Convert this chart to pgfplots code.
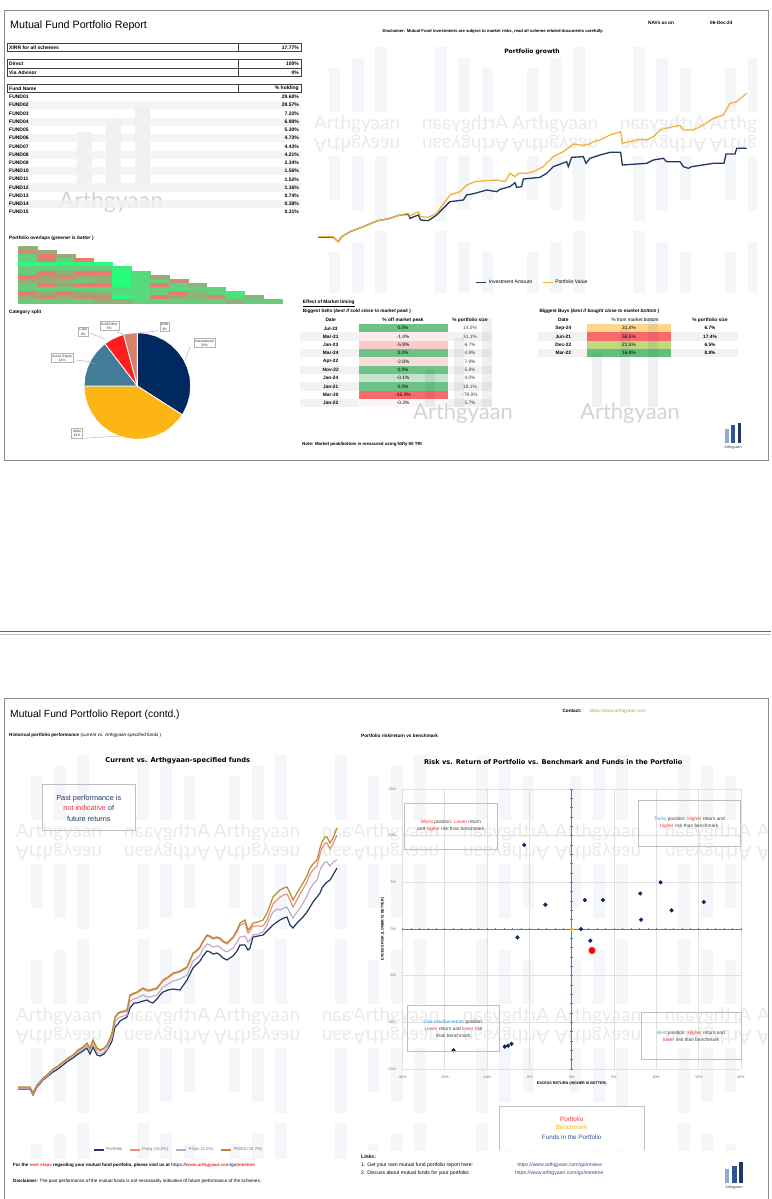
\documentclass[border=0pt]{standalone}
\usepackage{pgfplots}
\usepackage{pgfplotstable}
\pgfplotsset{compat=1.18}
\usepackage{fontspec}
\setmainfont{Liberation Sans}
\newfontfamily\dv{DejaVu Sans}
\newfontfamily\lato{Lato}
\definecolor{navy}{HTML}{1F3864}
\definecolor{gorange}{HTML}{F4B23A}
\definecolor{frame}{HTML}{8C8C8C}
\definecolor{band}{HTML}{F2F2F2}
\definecolor{wmbar}{HTML}{F5F6FA}
\definecolor{wmtext}{HTML}{EAEAEA}
\definecolor{pint}{HTML}{002960}
\definecolor{pidx}{HTML}{FDB515}
\definecolor{pact}{HTML}{437C96}
\definecolor{pcash}{HTML}{FF1E1E}
\definecolor{pgold}{HTML}{D9806A}
\definecolor{cg}{HTML}{6CC287}
\definecolor{cg2}{HTML}{C2E5CB}
\definecolor{cp1}{HTML}{FCEBEB}
\definecolor{cp2}{HTML}{F9CBCB}
\definecolor{cp3}{HTML}{FADCDC}
\definecolor{cr}{HTML}{F8696B}
\definecolor{cp4}{HTML}{FDF6F6}
\definecolor{co}{HTML}{FDD68A}
\definecolor{cy}{HTML}{BFD97E}
\definecolor{cgg}{HTML}{63BE7B}
\definecolor{lsal}{HTML}{E8927C}
\definecolor{llil}{HTML}{C3A9C6}
\definecolor{lgold}{HTML}{BA8A2C}
\definecolor{fundc}{HTML}{0D2B5E}
\definecolor{redt}{HTML}{FF2B2B}
\definecolor{bluet}{HTML}{2E95D3}
\definecolor{greent}{HTML}{3DBE6E}
\definecolor{linkc}{HTML}{2F4F8F}
\definecolor{axc}{HTML}{5E7FA8}
\definecolor{lg1}{HTML}{8FAADC}
\definecolor{lg2}{HTML}{2F5597}
\definecolor{lg3}{HTML}{203864}
\definecolor{urlg}{HTML}{7DBB5A}
\newcommand\fs[1]{\fontsize{#1}{#1}\selectfont}
\tikzset{P/.style={x=1pt,y=1pt}}
\newcommand\wmtile[4]{%
  \begin{scope}[shift={(#1,-#2)}, xscale=#3, yscale=#4, transform shape]
    \fill[wmbar] (-32.8,-24) rectangle (-21.2,20);
    \fill[wmbar] (-9.5,-24) rectangle (2.5,30);
    \fill[wmbar] (13.8,-24) rectangle (25.8,41);
    \node[text=wmtext, font=\lato\fs{19}, inner sep=0pt] at (-4.5,-36) {Arthgyaan};
  \end{scope}}

\pgfplotstableread{
x g s l n
18 1087 1088 1088 1089
30 1087 1088 1088 1089
33 1093 1094 1094 1095
37 1085 1086 1086 1087
43 1078 1079 1079 1080
48 1074 1075 1075 1076
53 1069 1070 1070 1072
58 1066 1067 1067 1069
63 1062 1063 1063 1065
68 1058 1059 1059 1061
73 1055 1056 1056 1058
78 1050 1051 1052 1054
83 1047 1048 1049 1051
87 1043 1044 1046 1048
90 1048 1049 1051 1054
93 1040 1041 1044 1047
97 1048 1049 1052 1055
100 1050 1051 1054 1056
104 1048 1049 1052 1054
107 1045 1046 1049 1050
110 1038 1039 1042 1045
112 1033 1034 1037 1041
115 1017 1018 1022 1027
118 1013 1014 1018 1024
120 1012 1013 1017 1021
127 1010 1011 1015 1017
130 995 996 1001 1008
134 993 994 999 1003
137 992 993 998 1003
143 988 989 995 1001
147 990 991 997 1000
150 990 991 997 1002
153 989 990 996 1003
157 988 989 995 999
160 984 985 991 995
163 980 981 987 992
168 977 978 984 990
173 973 974 981 989
180 971 972 979 990
187 967 968 975 980
190 960 961 968 974
193 953 954 961 968
197 950 951 958 964
200 947 948 955 961
203 941 942 949 956
207 935 936 944 951
210 936 937 945 952
213 938 939 947 954
217 937 938 946 953
220 938 939 947 955
223 941 942 950 958
227 943 944 952 960
230 940 941 950 958
233 937 938 948 956
237 930 932 942 951
240 923 925 937 945
245 920 923 936 945
248 930 933 942 950
250 928 931 940 948
253 923 926 935 937
258 922 926 934 936
263 920 926 932 935
267 913 920 925 931
270 905 912 918 928
273 897 904 912 925
277 893 900 909 922
280 890 897 910 920
284 888 895 908 918
287 887 894 907 917
290 893 900 913 925
293 900 907 918 928
297 893 900 912 923
300 888 894 908 920
303 883 889 903 917
307 876 882 896 912
310 868 874 889 907
313 864 870 884 902
317 860 866 880 897
320 848 854 870 893
322 842 848 866 888
325 837 843 862 884
327 837 843 862 882
330 843 849 866 880
333 838 844 862 875
337 828 835 860 868
}\perf

\begin{document}
\begin{tikzpicture}
\begin{scope}[P]
\fill[white] (0,0) rectangle (771,-1199);
\path[use as bounding box] (0,0) rectangle (771,-1199);

% ---------- frames ----------
\draw[frame, line width=0.8pt] (4,-10) rectangle (768,-460);
\draw[black!60, line width=0.8pt] (0,-631.5) -- (771,-631.5);
\draw[black!25, line width=0.6pt] (0,-634) -- (771,-634);
\draw[frame, line width=0.8pt] (4,-1199) -- (4,-698) -- (768,-698) -- (768,-1199);

% ---------- watermark tiles ----------
\begin{scope}
\clip (312,-42) rectangle (757,-292);
\foreach \c in {0,...,4}{\foreach \r in {0,1,2}{%
  \pgfmathsetmacro\tx{312+99*\c+49.5}\pgfmathsetmacro\ty{42+92*\r+46}%
  \pgfmathsetmacro\sx{1-2*mod(\c,2)}\pgfmathsetmacro\sy{1-2*mod(\r,2)}%
  \wmtile{\tx}{\ty}{\sx}{\sy}}}
\end{scope}
\begin{scope}
\clip (10,-745) rectangle (352,-1158);
\foreach \c in {0,...,3}{\foreach \r in {0,...,4}{%
  \pgfmathsetmacro\tx{14+99*\c+49.5}\pgfmathsetmacro\ty{750+92*\r+46}%
  \pgfmathsetmacro\sx{1-2*mod(\c,2)}\pgfmathsetmacro\sy{1-2*mod(\r,2)}%
  \wmtile{\tx}{\ty}{\sx}{\sy}}}
\end{scope}
\begin{scope}
\clip (355,-745) rectangle (766,-1150);
\foreach \c in {0,...,4}{\foreach \r in {0,...,4}{%
  \pgfmathsetmacro\tx{351+101*\c+49.5}\pgfmathsetmacro\ty{750+92*\r+46}%
  \pgfmathsetmacro\sx{1-2*mod(\c,2)}\pgfmathsetmacro\sy{1-2*mod(\r,2)}%
  \wmtile{\tx}{\ty}{\sx}{\sy}}}
\end{scope}

% ---------- page 1 : left ----------
\node[anchor=west, inner sep=0pt, font=\fs{10.7}] at (10,-26) {Mutual Fund Portfolio Report};

\fill[black!6] (76.7,-131.7) rectangle (91.7,-185);
\fill[black!6] (106,-118.3) rectangle (120.7,-185);
\fill[black!6] (135,-105) rectangle (150,-185);
\node[text=black!17, font=\lato\fs{23}, inner sep=0pt] at (111,-202) {Arthgyaan};

\begin{scope}[every node/.style={inner sep=0pt, font=\bfseries\fs{5}}]
\draw[black!75, line width=0.5pt] (7,-43.3) rectangle (301,-51.7) (238.7,-43.3) -- (238.7,-51.7);
\node[anchor=west] at (9,-47.5) {XIRR for all schemes};
\node[anchor=east] at (299,-47.5) {17.77\%};
\draw[black!75, line width=0.5pt] (7,-59.7) rectangle (301,-76.7) (7,-68.2) -- (301,-68.2) (238.7,-59.7) -- (238.7,-76.7);
\node[anchor=west] at (9,-64) {Direct};
\node[anchor=east] at (299,-64) {100\%};
\node[anchor=west] at (9,-72.5) {Via Advisor};
\node[anchor=east] at (299,-72.5) {0\%};
\draw[black!75, line width=0.5pt] (7,-84) rectangle (301,-92.7) (238.7,-84) -- (238.7,-92.7);
\node[anchor=west] at (9,-88.3) {Fund Name};
\node[anchor=east] at (299,-88.3) {\% holding};
\foreach \n/\v [count=\i] in {FUND01/29.60,FUND02/29.57,FUND03/7.22,FUND04/6.90,FUND05/5.30,FUND06/4.73,FUND07/4.43,FUND08/4.21,FUND09/2.34,FUND10/1.56,FUND11/1.52,FUND12/1.16,FUND13/0.74,FUND14/0.38,FUND15/0.31}{%
  \pgfmathsetmacro\yy{97+(\i-1)*8.23}%
  \ifodd\i\else\fill[band, opacity=0.8] (7,{-\yy+4.1}) rectangle (301,{-\yy-4.1});\fi
  \node[anchor=west] at (9,-\yy) {\n};
  \node[anchor=east] at (299,-\yy) {\v\%};}
\end{scope}

\node[anchor=west, inner sep=0pt, font=\bfseries\fs{4.8}] at (9,-238.3) {Portfolio overlaps (\textit{greener is better} )};
\node[anchor=west, inner sep=0pt, font=\bfseries\fs{4.8}] at (9,-312.7) {Category split};
\end{scope}

% heatmap
\begin{axis}[at={(18pt,-246pt)}, anchor=north west, scale only axis, width=263.7pt, height=57.4pt,
 xmin=0.5,xmax=14.5,ymin=0.5,ymax=14.5,y dir=reverse, hide axis, clip=false,
 colormap={ov}{rgb255(0cm)=(236,120,110) rgb255(3cm)=(200,142,115) rgb255(5cm)=(150,172,120) rgb255(8cm)=(100,208,125) rgb255(10cm)=(40,252,125)},
 point meta min=0, point meta max=1]
\addplot[scatter, only marks, mark=square*, mark size=2.1pt, mark options={xscale=4.5, line width=0.05pt},
 scatter/use mapped color={draw=mapped color, fill=mapped color}, point meta=explicit]
 table[row sep=\\, meta=c] {x y c\\
1 1 0.5\\
1 2 0.3\\ 2 2 0.5\\
1 3 0.8\\ 2 3 0.05\\ 3 3 0.5\\
1 4 0.8\\ 2 4 0.1\\ 3 4 0.75\\ 4 4 0\\
1 5 1\\ 2 5 1\\ 3 5 1\\ 4 5 1\\ 5 5 1\\
1 6 0.75\\ 2 6 0.75\\ 3 6 0.75\\ 4 6 0.75\\ 5 6 0.75\\ 6 6 0.95\\
1 7 0.75\\ 2 7 0.05\\ 3 7 0.5\\ 4 7 0.05\\ 5 7 0\\ 6 7 1\\ 7 7 0.85\\
1 8 0.1\\ 2 8 0.45\\ 3 8 0.25\\ 4 8 0.5\\ 5 8 0.5\\ 6 8 1\\ 7 8 0.85\\ 8 8 0.5\\
1 9 0.5\\ 2 9 0.5\\ 3 9 0.55\\ 4 9 0.75\\ 5 9 0.55\\ 6 9 1\\ 7 9 0.85\\ 8 9 0.8\\ 9 9 0.3\\
1 10 0.75\\ 2 10 0.05\\ 3 10 0.5\\ 4 10 0.05\\ 5 10 0\\ 6 10 1\\ 7 10 0.85\\ 8 10 0.05\\ 9 10 0.8\\ 10 10 0.6\\
1 11 0.8\\ 2 11 0.8\\ 3 11 0.8\\ 4 11 0.8\\ 5 11 0.8\\ 6 11 0.85\\ 7 11 0.85\\ 8 11 0.8\\ 9 11 0.85\\ 10 11 0.8\\ 11 11 0.8\\
1 12 0.1\\ 2 12 0.5\\ 3 12 0.1\\ 4 12 0.5\\ 5 12 0.55\\ 6 12 0.85\\ 7 12 0.85\\ 8 12 0.8\\ 9 12 0.05\\ 10 12 0.55\\ 11 12 0.8\\ 12 12 0.9\\
1 13 0.5\\ 2 13 0.3\\ 3 13 0.5\\ 4 13 0.3\\ 5 13 0.3\\ 6 13 1\\ 7 13 0.85\\ 8 13 0.05\\ 9 13 0.5\\ 10 13 0.55\\ 11 13 0.3\\ 12 13 0.85\\ 13 13 0.6\\
1 14 0.75\\ 2 14 0.75\\ 3 14 0.75\\ 4 14 0.75\\ 5 14 0.55\\ 6 14 0.5\\ 7 14 0.8\\ 8 14 0.8\\ 9 14 0.8\\ 10 14 0.8\\ 11 14 0.8\\ 12 14 0.55\\ 13 14 0.75\\ 14 14 0.75\\
};
\end{axis}

% pie
\begin{axis}[at={(84pt,-332.7pt)}, anchor=north west, scale only axis, width=106.7pt, height=106.7pt,
 xmin=-1,xmax=1,ymin=-1,ymax=1, hide axis, data cs=polar, clip=false]
\addplot[fill=pint, draw=white, line width=0.8pt] coordinates {(0,0) (90,1) (80,1) (70,1) (60,1) (50,1) (40,1) (30,1) (20,1) (10,1) (0,1) (-10,1) (-20,1) (-30,1) (-32.6,1) (0,0)};
\addplot[fill=pidx, draw=white, line width=0.8pt] coordinates {(0,0) (-32.6,1) (-40,1) (-50,1) (-60,1) (-70,1) (-80,1) (-90,1) (-100,1) (-110,1) (-120,1) (-130,1) (-140,1) (-150,1) (-160,1) (-170,1) (-180,1) (0,0)};
\addplot[fill=pact, draw=white, line width=0.8pt] coordinates {(0,0) (180,1) (170,1) (160,1) (150,1) (140,1) (130,1) (127.4,1) (0,0)};
\addplot[fill=pcash, draw=white, line width=0.8pt] coordinates {(0,0) (127.4,1) (120,1) (110,1) (104.9,1) (0,0)};
\addplot[fill=pgold, draw=white, line width=0.8pt] coordinates {(0,0) (104.9,1) (100,1) (90,1) (0,0)};
\end{axis}

\begin{scope}[P]
\begin{scope}[every node/.style={draw=black!30, fill=white, font=\fontsize{3.4}{4.4}\selectfont, align=center, inner sep=1.2pt, text=black!80}]
\draw[black!35, line width=0.4pt] (158.3,-330.7) -- (137.7,-333.3);
\draw[black!35, line width=0.4pt] (116.7,-332) -- (125,-335);
\draw[black!35, line width=0.4pt] (90,-333.3) -- (105,-339);
\draw[black!35, line width=0.4pt] (76.7,-360) -- (89,-361.7) -- (95,-364);
\draw[black!35, line width=0.4pt] (190,-347) -- (185,-360);
\draw[black!35, line width=0.4pt] (84,-438.3) -- (120,-436);
\node at (164.5,-326.7) {Debt\\0\%};
\node at (109.3,-326) {Gold/Other\\5\%};
\node at (83.3,-331.7) {Cash\\6\%};
\node at (62.2,-358) {Active Equity\\14\%};
\node at (204.5,-343) {International\\33\%};
\node at (77,-433.3) {Index\\41\%};
\end{scope}

% ---------- page 1 : right ----------
\node[anchor=west, inner sep=0pt, font=\bfseries\fs{4.7}] at (648,-22.7) {NAVs as on};
\node[anchor=west, inner sep=0pt, font=\bfseries\fs{4.7}] at (710,-22.7) {06-Dec-24};
\node[inner sep=0pt, font=\bfseries\fs{4.2}] at (493,-31) {Disclaimer: Mutual Fund investments are subject to market risks, read all scheme related documents carefully.};
\node[inner sep=0pt, font=\dv\bfseries\fs{6}] at (532,-52.3) {Portfolio growth};
\end{scope}

\begin{axis}[at={(318.33pt,-93.33pt)}, anchor=north west, scale only axis, width=428.33pt, height=148.33pt,
 xmin=55,xmax=1340, ymin=280,ymax=725, y dir=reverse, hide axis, clip=false,
 legend columns=2, legend style={at={(0.5,-0.276)}, anchor=center, draw=none, fill=none, font=\fs{5}, /tikz/every even column/.append style={column sep=8pt}},
 legend image code/.code={\draw[#1] (0pt,0pt) -- (10pt,0pt);}]
\addplot[navy, line width=1.3pt] table[row sep=\\] {x y\\
55 712\\ 100 712\\ 115 725\\ 125 710\\ 150 695\\ 190 680\\ 230 663\\ 270 655\\ 300 645\\ 325 643\\ 330 655\\ 355 645\\ 362 660\\ 385 662\\ 410 645\\ 430 625\\ 450 605\\ 490 600\\ 500 585\\ 525 580\\ 560 570\\ 590 575\\ 600 568\\ 630 560\\ 645 548\\ 650 562\\ 665 560\\ 670 537\\ 720 532\\ 740 520\\ 760 500\\ 800 485\\ 805 500\\ 815 472\\ 850 470\\ 858 490\\ 870 475\\ 900 465\\ 930 457\\ 962 457\\ 967 495\\ 1040 490\\ 1060 480\\ 1090 475\\ 1100 485\\ 1140 485\\ 1150 500\\ 1165 505\\ 1175 500\\ 1240 490\\ 1272 490\\ 1278 462\\ 1305 462\\ 1310 445\\ 1340 445\\};
\addlegendentry{Investment Amount}
\addplot[gorange, line width=1.3pt] table[row sep=\\] {x y\\
55 710\\ 100 710\\ 115 725\\ 125 710\\ 150 695\\ 190 680\\ 230 663\\ 270 655\\ 300 645\\ 325 640\\ 330 648\\ 355 635\\ 362 650\\ 385 652\\ 410 640\\ 430 612\\ 450 585\\ 480 575\\ 500 555\\ 525 545\\ 560 542\\ 590 540\\ 615 545\\ 630 520\\ 645 530\\ 655 520\\ 680 520\\ 700 515\\ 730 500\\ 760 470\\ 790 455\\ 810 440\\ 820 432\\ 850 436\\ 870 432\\ 880 425\\ 900 420\\ 930 405\\ 962 395\\ 967 430\\ 990 425\\ 1020 418\\ 1040 420\\ 1060 410\\ 1080 390\\ 1110 382\\ 1140 376\\ 1150 390\\ 1180 390\\ 1210 375\\ 1240 355\\ 1270 345\\ 1290 310\\ 1310 305\\ 1340 280\\};
\addlegendentry{Portfolio Value}
\end{axis}

\begin{scope}[P]
% market timing
\node[anchor=west, inner sep=0pt, font=\bfseries\fs{4.8}] at (302.7,-303.5) {\underline{Effect of Market timing}};
\node[anchor=west, inner sep=0pt, font=\bfseries\fs{4.7}] at (302.7,-311.7) {Biggest Sells (\textit{best if sold close to market peak} )};
\node[anchor=west, inner sep=0pt, font=\bfseries\fs{4.7}] at (539.3,-311.7) {Biggest Buys (\textit{best if bought close to market bottom} )};
\begin{scope}[every node/.style={inner sep=0pt, font=\fs{4.8}}]
\node[font=\bfseries\fs{4.8}] at (330.7,-320) {Date};
\node[font=\bfseries\fs{4.8}] at (403,-320) {\% off market peak};
\node[font=\bfseries\fs{4.8}] at (470,-320) {\% portfolio size};
\foreach \d/\o/\c/\p [count=\i] in {Jul-23/0.0/cg/14.0,Mar-21/-1.4/cp1/31.1,Jan-23/-5.9/cp2/6.7,Mar-24/0.0/cg/4.9,Apr-22/-2.8/cp3/7.9,Nov-22/0.0/cg/5.8,Jan-24/-0.1/cg2/4.0,Jan-21/0.0/cg/18.1,Mar-20/-15.3/cr/-79.9,Jan-22/-0.3/cp4/5.7}{%
  \pgfmathsetmacro\yy{328.3+(\i-1)*8.33}%
  \ifodd\i\else\fill[band] (300,{-\yy+4.15}) rectangle (491.7,{-\yy-4.15});\fi
  \fill[\c] (359.3,{-\yy+4.15}) rectangle (447.7,{-\yy-4.15});
  \node[font=\bfseries\fs{4.8}] at (330.7,-\yy) {\d};
  \node at (403,-\yy) {\o\%};
  \node[text=black!75] at (470,-\yy) {\p\%};}
\node[font=\bfseries\fs{4.8}] at (563.3,-320) {Date};
\node at (635,-320) {\% from market bottom};
\node[font=\bfseries\fs{4.8}] at (710,-320) {\% portfolio size};
\foreach \d/\o/\c/\p [count=\i] in {Sep-24/31.4/co/6.7,Jun-21/58.5/cr/17.4,Dec-22/21.5/cy/6.5,Mar-22/16.9/cgg/8.8}{%
  \pgfmathsetmacro\yy{328.3+(\i-1)*8.33}%
  \ifodd\i\else\fill[band] (538.3,{-\yy+4.15}) rectangle (738.3,{-\yy-4.15});\fi
  \fill[\c] (587.3,{-\yy+4.15}) rectangle (671,{-\yy-4.15});
  \node[font=\bfseries\fs{4.8}] at (563.3,-\yy) {\d};
  \node at (629,-\yy) {\o\%};
  \node[font=\bfseries\fs{4.8}] at (710,-\yy) {\p\%};}
\end{scope}
\begin{scope}[opacity=0.07]
\fill[navy] (425,-370) rectangle (435,-407);
\fill[navy] (453.7,-338) rectangle (463.7,-407);
\fill[navy] (482,-318) rectangle (492,-407);
\fill[navy] (591.7,-353) rectangle (601.7,-407);
\fill[navy] (620,-328) rectangle (630,-407);
\fill[navy] (648,-318) rectangle (658,-407);
\end{scope}
\node[text=black!17, font=\lato\fs{22}, inner sep=0pt] at (463,-413) {Arthgyaan};
\node[text=black!17, font=\lato\fs{22}, inner sep=0pt] at (630,-413) {Arthgyaan};
\node[anchor=west, inner sep=0pt, font=\bfseries\fs{4.4}] at (302,-444) {Note: Market peak/bottom is measured using Nifty 50 TRI};
\fill[lg1] (725.3,-429.3) rectangle (728.7,-443.3);
\fill[lg2] (731.3,-425.3) rectangle (734.7,-443.3);
\fill[lg3] (738,-422.7) rectangle (741.3,-443.3);
\node[inner sep=0pt, font=\fs{3.8}, text=black!75] at (733,-447.7) {Arthgyaan};

% ---------- page 2 : left ----------
\node[anchor=west, inner sep=0pt, font=\fs{10.3}] at (10,-715) {Mutual Fund Portfolio Report (contd.)};
\node[anchor=west, inner sep=0pt, font=\fs{4.6}] at (9,-735.7) {\textbf{Historical portfolio performance} (\textit{current vs. Arthgyaan-specified funds} )};
\node[inner sep=0pt, font=\dv\bfseries\fs{6.7}] at (177.8,-761) {Current vs. Arthgyaan-specified funds};
\draw[black!25, line width=0.5pt] (42.3,-784.3) rectangle (135.3,-830);
\node[align=center, inner sep=0pt, font=\fontsize{7.3}{10.5}\selectfont, text=navy] at (88.8,-808) {Past performance is\\\textcolor{redt}{not indicative} of\\future returns};
\end{scope}

\begin{axis}[at={(10pt,-790pt)}, anchor=north west, scale only axis, width=335pt, height=310pt,
 xmin=10,xmax=345, ymin=790,ymax=1100, y dir=reverse, hide axis, clip=false,
 legend columns=4, legend style={at={(0.504,-0.161)}, anchor=center, draw=none, fill=none, font=\fs{4.3}, text=black!55, /tikz/every even column/.append style={column sep=5pt}},
 legend image code/.code={\draw[#1] (0pt,0pt) -- (10pt,0pt);}]
\addplot[navy, line width=1.2pt] table[x=x, y=n] {\perf};
\addlegendentry{Portfolio}
\addplot[lsal, line width=1.2pt] table[x=x, y=s] {\perf};
\addlegendentry{Pavg (16.0\%)}
\addplot[llil, line width=1.2pt] table[x=x, y=l] {\perf};
\addlegendentry{PGps (3.2\%)}
\addplot[lgold, line width=1.2pt] table[x=x, y=g] {\perf};
\addlegendentry{PIND4 (16.7\%)}
\end{axis}

\begin{scope}[P]
\node[anchor=west, inner sep=0pt, font=\bfseries\fs{4.5}] at (13,-1165) {For the \textcolor{redt}{next steps} regarding your mutual fund portfolio, please visit us at \textcolor{linkc}{https://}\textcolor{redt}{www.arthgyaan.com}\textcolor{linkc}{/go/}\textcolor{redt}{meetme}};
\node[anchor=west, inner sep=0pt, font=\fs{4.6}] at (13,-1181.7) {\textbf{Disclaimer:} The past performance of the mutual funds is not necessarily indicative of future performance of the schemes.};

% ---------- page 2 : right ----------
\node[anchor=west, inner sep=0pt, font=\bfseries\fs{4.7}] at (562.3,-711) {Contact:};
\node[anchor=west, inner sep=0pt, font=\fs{4.7}, text=urlg] at (589.3,-711) {https://www.arthgyaan.com};
\node[anchor=west, inner sep=0pt, font=\bfseries\fs{4.7}] at (361,-736) {Portfolio risk/return vs benchmark};
\node[inner sep=0pt, font=\dv\bfseries\fs{6.6}] at (553.3,-761.7) {Risk vs. Return of Portfolio vs. Benchmark and Funds in the Portfolio};
\end{scope}

\begin{axis}[at={(402.3pt,-789pt)}, anchor=north west, scale only axis, width=338.7pt, height=280pt,
 xmin=-20,xmax=20,ymin=-15,ymax=15, axis line style={draw=none}, grid=major,
 grid style={draw=black!12, line width=0.4pt}, major tick length=0pt,
 xtick={-20,-15,...,20}, ytick={-15,-10,...,15},
 xticklabels={-20\%,-15\%,-10\%,-5\%,0\%,5\%,10\%,15\%,20\%},
 yticklabels={-15\%,-10\%,-5\%,0\%,5\%,10\%,15\%},
 xticklabel style={font=\fs{3.6}, text=black!60, yshift=-3pt},
 yticklabel style={font=\fs{3.6}, text=black!60, xshift=-3pt},
 xlabel={EXCESS RETURN (HIGHER IS BETTER)}, ylabel={EXCESS RISK (LOWER IS BETTER)},
 xlabel style={at={(axis description cs:0.5,-0.051)}, anchor=center, font=\bfseries\fs{3.7}},
 ylabel style={at={(axis description cs:-0.058,0.5)}, anchor=center, font=\bfseries\fs{3.7}},
 clip=false]
\end{axis}
\begin{axis}[at={(402.3pt,-789pt)}, anchor=north west, scale only axis, width=338.7pt, height=280pt,
 xmin=-20,xmax=20,ymin=-15,ymax=15, axis lines=middle, axis line style={axc, line width=0.6pt, -},
 xtick={-20,-19,...,20}, ytick={-15,-14,...,15}, xticklabels={}, yticklabels={},
 tick style={axc, line width=0.4pt}, major tick length=2.4pt, tick align=center, clip=false]
\addplot[only marks, mark=*, mark size=1.9pt, mark options={draw=fundc, fill=fundc}] table[row sep=\\] {x y\\
-5.6 9.0\\ -3.1 2.6\\ 1.55 3.1\\ 3.7 3.1\\ 8.1 3.8\\ 10.5 5.0\\ 11.8 2.0\\ 8.2 1.0\\ 15.6 2.9\\ 1.1 0.0\\ -6.4 -0.9\\ 2.2 -1.25\\ -13.95 -13.0\\ -7.9 -12.6\\ -7.5 -12.5\\ -7.1 -12.3\\};
\addplot[only marks, mark=*, mark size=1.8pt, mark options={draw=pidx, fill=pidx}] coordinates {(0,0)};
\addplot[only marks, mark=*, mark size=3.2pt, mark options={draw=red, fill=red}] coordinates {(2.4,-2.3)};
\end{axis}

\begin{scope}[P]
\begin{scope}[every node/.style={align=center, inner sep=0pt, font=\fontsize{4.8}{7}\selectfont, text=black!75}]
\draw[black!25, line width=0.5pt] (404.3,-803.3) rectangle (497.3,-849);
\node at (450.8,-825.8) {\textcolor{redt}{Worst} position: \textcolor{redt}{Lower} return\\and \textcolor{redt}{higher} risk than benchmark};
\draw[black!25, line width=0.5pt] (638.3,-800.7) rectangle (740.3,-846.3);
\node at (689.3,-822.8) {\textcolor{bluet}{Tricky} position: \textcolor{redt}{Higher} return and\\\textcolor{redt}{higher} risk than benchmark};
\draw[black!25, line width=0.5pt] (407.7,-1005) rectangle (499.3,-1051);
\node at (453.5,-1028.7) {\textcolor{bluet}{Low-risk/low-return} position:\\\textcolor{redt}{Lower} return and \textcolor{redt}{lower} risk\\than benchmark};
\draw[black!25, line width=0.5pt] (641,-1012.7) rectangle (741.7,-1059);
\node at (691,-1036) {\textcolor{greent}{Best} position: \textcolor{redt}{Higher} return and\\\textcolor{redt}{lower} risk than benchmark};
\end{scope}

\fill[white] (499.3,-1106.7) rectangle (644.3,-1150);
\draw[black!25, line width=0.5pt] (499.3,-1150) -- (499.3,-1106.7) -- (644.3,-1106.7) -- (644.3,-1150);
\node[inner sep=0pt, font=\fs{6.3}, text=redt] at (571.7,-1119) {Portfolio};
\node[inner sep=0pt, font=\fs{6.3}, text=pidx] at (571.7,-1127.7) {Benchmark};
\node[inner sep=0pt, font=\fs{6.3}, text=linkc] at (571.7,-1137.3) {Funds in the Portfolio};

\node[anchor=west, inner sep=0pt, font=\bfseries\fs{5}] at (361,-1156.7) {Links:};
\node[anchor=west, inner sep=0pt, font=\fs{5.1}] at (361,-1165.3) {1. Get your own mutual fund portfolio report here:};
\node[anchor=west, inner sep=0pt, font=\fs{5.1}] at (361,-1173.3) {2. Discuss about mutual funds for your portfolio:};
\node[anchor=west, inner sep=0pt, font=\fs{5.1}, text=linkc] at (517.3,-1165.3) {https://www.arthgyaan.com/go/review};
\node[anchor=west, inner sep=0pt, font=\fs{5.1}, text=linkc] at (515,-1173.3) {https://www.arthgyaan.com/go/meetme};
\fill[lg1] (725,-1168.7) rectangle (729,-1183.3);
\fill[lg2] (732.3,-1166) rectangle (736.7,-1183.3);
\fill[lg3] (739.3,-1162.3) rectangle (743.3,-1183.3);
\node[inner sep=0pt, font=\fs{3.8}, text=black!75] at (734,-1188) {Arthgyaan};
\end{scope}
\end{tikzpicture}
\end{document}
